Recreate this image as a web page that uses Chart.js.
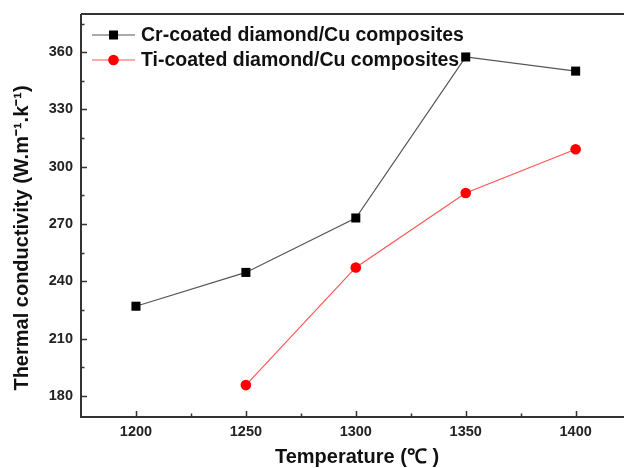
<!DOCTYPE html>
<html><head><meta charset="utf-8">
<script src="https://cdn.jsdelivr.net/npm/chart.js@4"></script>
<style>html,body{margin:0;padding:0;background:#fff}#wrap{width:624px;height:468px}</style>
</head><body><div id="wrap"><canvas id="c" width="624" height="468"></canvas></div>
<script>
const temps = [1200, 1250, 1300, 1350, 1400];
const crValues = [227, 244.7, 273.2, 357.5, 350.1];
const tiTemps = [1250, 1300, 1350, 1400];
const tiValues = [185.7, 247.3, 286.3, 309.2];
const xTicks = [1200, 1250, 1300, 1350, 1400];
const xMinor = [1225, 1275, 1325, 1375];
const yTicks = [180, 210, 240, 270, 300, 330, 360];
const yMinor = [195, 225, 255, 285, 315, 345, 375];
const seriesNames = ['Cr-coated diamond/Cu composites', 'Ti-coated diamond/Cu composites'];
const xTitle = 'Temperature (\u2103 )';
const yTitle = 'Thermal conductivity (W.m\u207B\u00B9.k\u207B\u00B9)';

const FONT = '"Liberation Sans", Arial, sans-serif';
const AX = '#333';

const decor = {
  id: 'decor',
  afterDraw(chart) {
    const ctx = chart.ctx, a = chart.chartArea;
    const xs = chart.scales.x, ys = chart.scales.y;
    ctx.save();
    ctx.strokeStyle = AX;
    ctx.lineWidth = 2;
    ctx.beginPath();
    ctx.moveTo(a.left, a.top); ctx.lineTo(624, a.top);
    ctx.moveTo(a.left, a.top); ctx.lineTo(a.left, a.bottom);
    ctx.moveTo(a.left - 1, a.bottom); ctx.lineTo(624, a.bottom);
    ctx.stroke();
    ctx.lineWidth = 1.5;
    ctx.beginPath();
    xTicks.forEach(v => { const p = Math.round(xs.getPixelForValue(v)) + 0.5; ctx.moveTo(p, a.bottom); ctx.lineTo(p, a.bottom - 6); });
    xMinor.forEach(v => { const p = Math.round(xs.getPixelForValue(v)) + 0.5; ctx.moveTo(p, a.bottom); ctx.lineTo(p, a.bottom - 3.5); });
    yTicks.forEach(v => { const p = Math.round(ys.getPixelForValue(v)) + 0.5; ctx.moveTo(a.left, p); ctx.lineTo(a.left + 6, p); });
    yMinor.forEach(v => { const p = Math.round(ys.getPixelForValue(v)) + 0.5; ctx.moveTo(a.left, p); ctx.lineTo(a.left + 3.5, p); });
    ctx.stroke();

    // legend
    const rows = [35, 60];
    chart.data.datasets.forEach((ds, i) => {
      const y = rows[i];
      ctx.strokeStyle = ds.borderColor; ctx.lineWidth = 1.2;
      ctx.beginPath(); ctx.moveTo(92, y); ctx.lineTo(135, y); ctx.stroke();
      ctx.fillStyle = ds.pointBackgroundColor;
      if (i === 0) { ctx.fillRect(109, y - 4.5, 9, 9); }
      else { ctx.beginPath(); ctx.arc(113.5, y, 5.3, 0, Math.PI * 2); ctx.fill(); }
      ctx.fillStyle = '#111';
      ctx.font = 'bold 19.5px ' + FONT;
      ctx.textAlign = 'left'; ctx.textBaseline = 'middle';
      ctx.fillText(seriesNames[i], 141, y + 1);
    });

    // axis titles
    ctx.fillStyle = '#111';
    ctx.font = 'bold 20px ' + FONT;
    ctx.textAlign = 'center'; ctx.textBaseline = 'middle';
    ctx.fillText(xTitle, 357, 457);
    ctx.save();
    ctx.translate(22, 238);
    ctx.rotate(-Math.PI / 2);
    ctx.fillText(yTitle, 0, 0);
    ctx.restore();
    ctx.restore();
  }
};

new Chart(document.getElementById('c'), {
  type: 'line',
  data: {
    datasets: [
      {
        label: seriesNames[0],
        data: temps.map((t, i) => ({ x: t, y: crValues[i] })),
        borderColor: '#555', borderWidth: 1.2,
        pointStyle: 'rect', pointRadius: 6.4, pointBackgroundColor: '#000', pointBorderWidth: 0,
        tension: 0
      },
      {
        label: seriesNames[1],
        data: tiTemps.map((t, i) => ({ x: t, y: tiValues[i] })),
        borderColor: '#f55', borderWidth: 1.2,
        pointStyle: 'circle', pointRadius: 5.3, pointBackgroundColor: '#ff0000', pointBorderWidth: 0,
        tension: 0
      }
    ]
  },
  options: {
    responsive: false, animation: false,
    layout: { autoPadding: false, padding: { top: 14, right: 0, left: 0, bottom: 0 } },
    plugins: { legend: { display: false }, tooltip: { enabled: false } },
    scales: {
      x: {
        type: 'linear', min: 1175, max: 1422,
        grid: { display: false, drawTicks: false }, border: { display: false },
        afterBuildTicks: s => { s.ticks = xTicks.map(v => ({ value: v })); },
        afterFit: s => { s.height = 51; s.paddingLeft = 0; s.paddingRight = 0; },
        ticks: { padding: 6, color: '#222', font: { family: FONT, size: 14.5, weight: 'bold' }, maxRotation: 0,
                 callback: v => String(v) }
      },
      y: {
        type: 'linear', min: 169, max: 380,
        grid: { display: false, drawTicks: false }, border: { display: false },
        afterBuildTicks: s => { s.ticks = yTicks.map(v => ({ value: v })); },
        afterFit: s => { s.width = 81; s.paddingTop = 0; s.paddingBottom = 0; },
        ticks: { padding: 8, color: '#222', font: { family: FONT, size: 14.5, weight: 'bold' },
                 callback: v => String(v) }
      }
    }
  },
  plugins: [decor]
});
</script></body></html>
